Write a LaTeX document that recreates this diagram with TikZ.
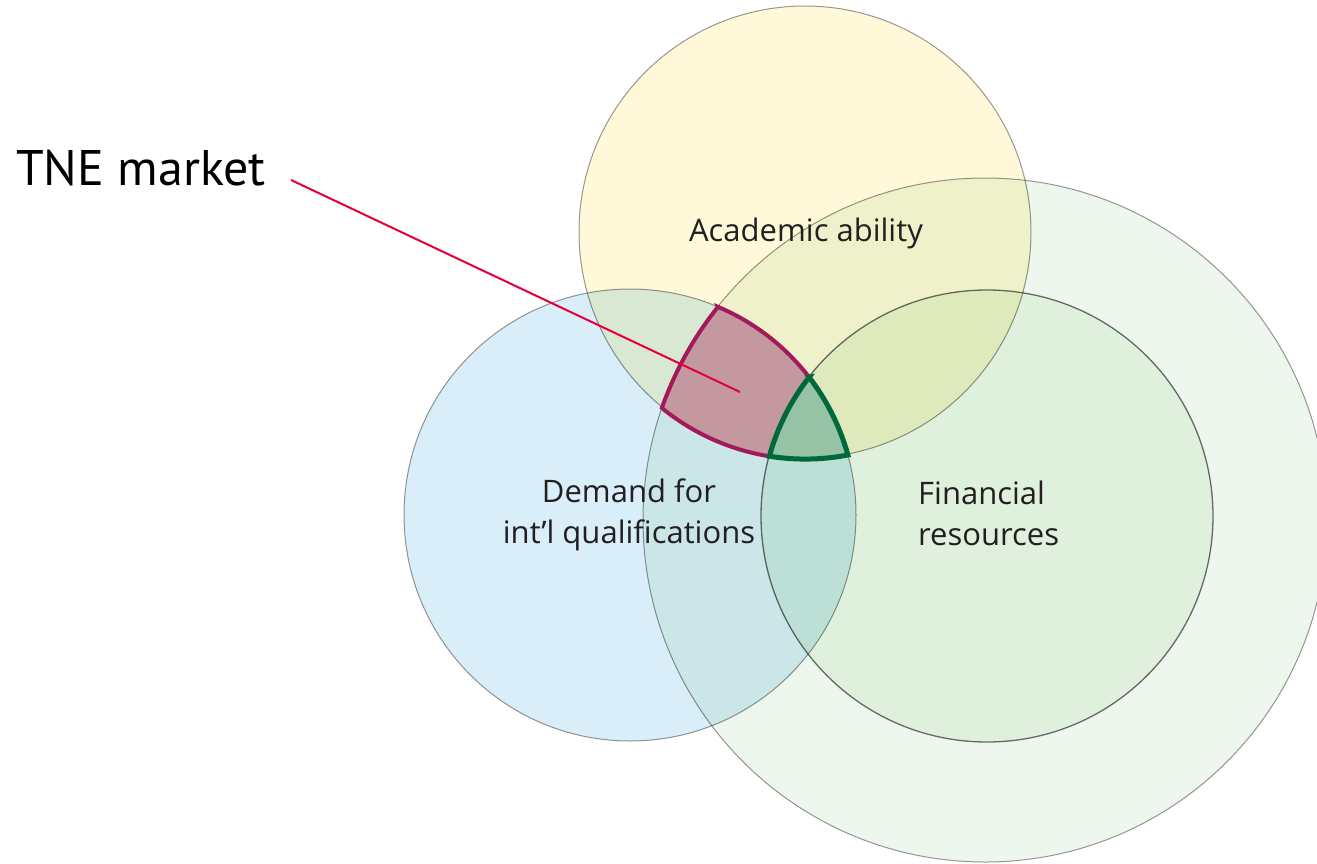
\documentclass[tikz,border=0pt]{standalone}
\usepackage{fontspec}
\usepackage{tikz}
\setmainfont{Open Sans}
\newfontfamily\tnefont{PT Sans}
\definecolor{academic}{HTML}{FFF9D9}
\definecolor{demand}{HTML}{D9EEF8}
\definecolor{wealth}{HTML}{EEF7EE}
\definecolor{finance}{HTML}{EFF8ED}
\definecolor{rimgray}{HTML}{999999}
\definecolor{rimdark}{HTML}{707070}
\definecolor{tnefill}{HTML}{C3999F}
\definecolor{tnerim}{HTML}{A3195B}
\definecolor{corefill}{HTML}{96C3A5}
\definecolor{corerim}{HTML}{00693A}
\definecolor{pointer}{HTML}{E4003A}
\definecolor{ink}{HTML}{231F20}

\begin{document}
\begin{tikzpicture}[x=1pt,y=-1pt,
    set/.style={draw=rimgray,line width=1pt},
    setlabel/.style={font=\fontsize{31}{41}\selectfont,text=ink,inner sep=0pt}]
    \useasboundingbox (0,0) rectangle (1317,863);

    \coordinate (Y) at (805,232);
    \coordinate (B) at (630,515);
    \coordinate (O) at (985,520);
    \coordinate (I) at (987,516);

    \begin{scope}[blend mode=multiply]
        \draw[set,fill=wealth] (O) circle[radius=342];
        \draw[set,fill=finance,draw=rimdark,line width=1.3pt] (I) circle[radius=226];
        \draw[set,fill=demand] (B) circle[radius=226];
        \draw[set,fill=academic] (Y) circle[radius=226];
    \end{scope}

    \draw[fill=tnefill,draw=tnerim,line width=4pt] (B) ++(-67.2:226)
        arc[start angle=-67.2,end angle=-37.6,radius=226]
        arc[start angle=-142,end angle=-164.6,radius=226]
        arc[start angle=99.1,end angle=129.3,radius=226]
        arc[start angle=-160.7,end angle=-141.3,radius=342] -- cycle;
    \draw[fill=corefill,draw=corerim,line width=5pt] (B) ++(-37.6:226)
        arc[start angle=-37.6,end angle=-15.4,radius=226]
        arc[start angle=79.1,end angle=99.1,radius=226]
        arc[start angle=-164.6,end angle=-142,radius=226] -- cycle;

    \node[anchor=base west,inner sep=0pt,font=\tnefont\fontsize{50}{60}\selectfont] (market) at (16,185) {TNE market};
    \coordinate (tne) at (740,392);
    \draw[pointer,line width=2pt] ([shift={(25,-5)}]market.base east) -- (tne);

    \node[setlabel,anchor=base] (academicLabel) at (806,241) {Academic ability};
    \node[setlabel,anchor=base,align=center] (demandLabel) at (629,543) {Demand for\\int’l qualifications};
    \node[setlabel,anchor=base west,align=left] (financeLabel) at (918,545) {Financial\\resources};
\end{tikzpicture}
\end{document}
